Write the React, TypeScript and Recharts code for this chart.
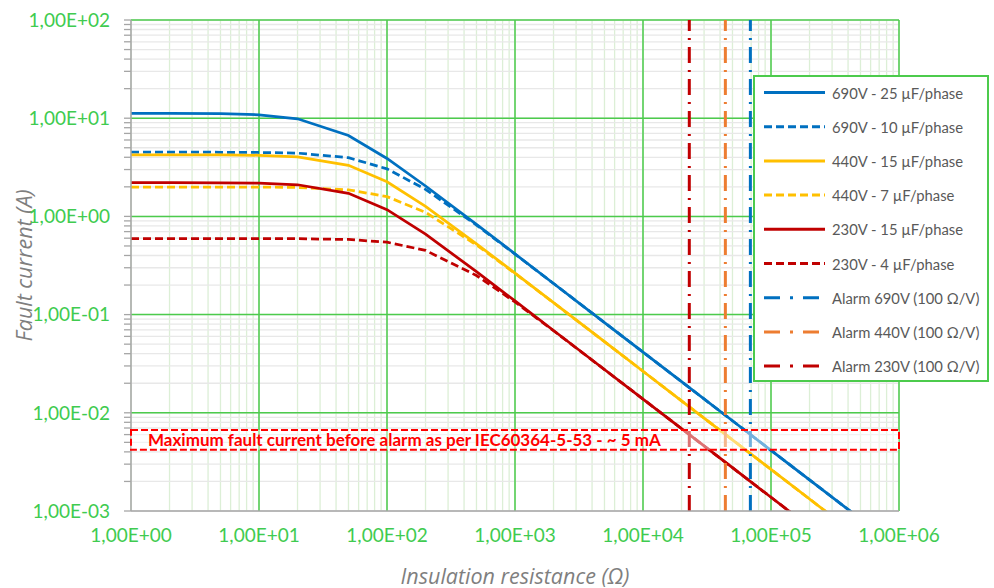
import { LineChart, Line, XAxis, YAxis, CartesianGrid, ReferenceLine, ReferenceArea, Legend } from 'recharts'

// insulation resistance (ohm) at which each curve point was read
const resistance = [1, 2, 5, 10, 20, 50, 100, 200, 500, 1e3, 2e3, 5e3, 1e4, 2e4, 5e4, 1e5, 2e5, 5e5, 1e6]

// fault current (A)
const i690v25uF = [11.21, 11.2, 11.11, 10.83, 9.87, 6.67, 3.89, 2.04, 0.828, 0.415, 0.2075, 0.083, 0.0415, 0.02075, 0.0083, 0.00415, 0.002075, 0.00083, 0.000415]
const i690v10uF = [4.51, 4.51, 4.5, 4.48, 4.41, 3.96, 3.05, 1.885, 0.816, 0.413, 0.2074, 0.083, 0.0415, 0.02075, 0.0083, 0.00415, 0.002075, 0.00083, 0.000415]
const i440v15uF = [4.24, 4.24, 4.23, 4.19, 4.04, 3.31, 2.25, 1.265, 0.526, 0.2645, 0.1325, 0.053, 0.0265, 0.01325, 0.0053, 0.00265, 0.001325, 0.00053, 0.000265]
const i440v7uF = [1.99, 1.99, 1.99, 1.99, 1.97, 1.865, 1.59, 1.1, 0.512, 0.263, 0.1322, 0.053, 0.0265, 0.01325, 0.0053, 0.00265, 0.001325, 0.00053, 0.000265]
const i230v15uF = [2.21, 2.21, 2.2, 2.18, 2.1, 1.72, 1.17, 0.659, 0.274, 0.1377, 0.0689, 0.0276, 0.0138, 0.0069, 0.00276, 0.00138, 0.00069, 0.000276, 0.000138]
const i230v4uF = [0.595, 0.595, 0.595, 0.594, 0.593, 0.582, 0.546, 0.451, 0.25, 0.1344, 0.0685, 0.02757, 0.0138, 0.0069, 0.00276, 0.00138, 0.00069, 0.000276, 0.000138]

// alarm thresholds (100 ohm/V)
const alarmR = [69000, 44000, 23000]
const alarmNames = ['Alarm 690V (100 Ω/V)', 'Alarm 440V (100 Ω/V)', 'Alarm 230V (100 Ω/V)']

// IEC 60364-5-53 band around ~5 mA
const bandLow = 0.0042
const bandHigh = 0.0067
const bandText = 'Maximum fault current before alarm as per IEC60364-5-53 - ~ 5 mA'

const xMajor = [1, 10, 100, 1e3, 1e4, 1e5, 1e6]
const xLabels = ['1,00E+00', '1,00E+01', '1,00E+02', '1,00E+03', '1,00E+04', '1,00E+05', '1,00E+06']
const yMajor = [0.001, 0.01, 0.1, 1, 10, 100]
const yLabels = ['1,00E-03', '1,00E-02', '1,00E-01', '1,00E+00', '1,00E+01', '1,00E+02']
const minorSteps = [2, 3, 4, 5, 6, 7, 8, 9]

const BLUE = '#0070C0'
const YELLOW = '#FFC000'
const RED = '#C00000'
const ORANGE = '#ED7D31'
const GREEN = '#4CCB4C'
const TICK_GREEN = '#3FCB50'
const FONT = 'Lato, "Open Sans", sans-serif'
const TITLE_FONT = '"Open Sans", Lato, sans-serif'

const series = [
  { key: 's1', name: '690V - 25 µF/phase', values: i690v25uF, color: BLUE, dash: undefined },
  { key: 's2', name: '690V - 10 µF/phase', values: i690v10uF, color: BLUE, dash: '8 4' },
  { key: 's3', name: '440V - 15 µF/phase', values: i440v15uF, color: YELLOW, dash: undefined },
  { key: 's4', name: '440V - 7 µF/phase', values: i440v7uF, color: YELLOW, dash: '8 4' },
  { key: 's5', name: '230V - 15 µF/phase', values: i230v15uF, color: RED, dash: undefined },
  { key: 's6', name: '230V - 4 µF/phase', values: i230v4uF, color: RED, dash: '8 4' },
]
const alarmColors = [BLUE, ORANGE, RED]

const data = resistance.map((r, i) => {
  const row: Record<string, number> = { r }
  series.forEach((s) => { row[s.key] = s.values[i] })
  return row
})

const withMinors = (majors: number[]) => {
  const out: number[] = []
  majors.forEach((m, i) => {
    out.push(m)
    if (i < majors.length - 1) minorSteps.forEach((k) => out.push(m * k))
  })
  return out
}
const xTicks = withMinors(xMajor)
const yTicks = withMinors(yMajor)

const fmt = (majors: number[], labels: string[]) => (v: number) => {
  const i = majors.findIndex((m) => Math.abs(m - v) / m < 1e-6)
  return i >= 0 ? labels[i] : ''
}

const legendItems = [
  ...series.map((s) => ({ name: s.name, color: s.color, dash: s.dash })),
  ...alarmNames.map((n, i) => ({ name: n, color: alarmColors[i], dash: '16 10 3 10' })),
]

function LegendBox() {
  return (
    <svg width={236} height={307} style={{ display: 'block' }}>
      <rect x={1} y={1} width={234} height={305} fill="#fff" stroke={GREEN} strokeWidth={2} />
      {legendItems.map((it, i) => {
        const cy = 17.5 + i * 34.2
        return (
          <g key={it.name}>
            <line x1={11} x2={72} y1={cy} y2={cy} stroke={it.color} strokeWidth={3} strokeDasharray={it.dash} />
            <text x={79} y={cy} dominantBaseline="central" fill="#595959" fontSize={14.8} fontFamily={FONT}>
              {it.name}
            </text>
          </g>
        )
      })}
    </svg>
  )
}

// eslint-disable-next-line @typescript-eslint/no-explicit-any
function YTitle({ viewBox }: any) {
  const cx = viewBox.x + 13
  const cy = viewBox.y + viewBox.height / 2
  return (
    <text x={cx} y={cy} transform={`rotate(-90 ${cx} ${cy})`} textAnchor="middle" dominantBaseline="central"
      fill="#7F7F7F" fontSize={21.5} fontStyle="italic" fontFamily={TITLE_FONT}>
      Fault current (A)
    </text>
  )
}

// eslint-disable-next-line @typescript-eslint/no-explicit-any
function XTitle({ viewBox }: any) {
  return (
    <text x={viewBox.x + viewBox.width / 2} y={viewBox.y + 64} textAnchor="middle" dominantBaseline="central"
      fill="#7F7F7F" fontSize={21.5} fontStyle="italic" fontFamily={TITLE_FONT}>
      Insulation resistance (Ω)
    </text>
  )
}

// eslint-disable-next-line @typescript-eslint/no-explicit-any
function BandLabel({ viewBox }: any) {
  return (
    <text x={viewBox.x + 17} y={viewBox.y + viewBox.height / 2} dominantBaseline="central"
      fill="#FF0000" fontSize={17} fontWeight={700} fontFamily={FONT}>
      {bandText}
    </text>
  )
}

export default function App() {
  return (
    <div style={{ position: 'fixed', left: 0, top: 0, width: 994, height: 588, background: '#fff' }}>
      <LineChart width={994} height={588} data={data} margin={{ top: 20, right: 95, bottom: 10, left: 10 }}>
        <CartesianGrid horizontal={false} stroke="#DCEFD6" strokeWidth={1.3} />
        <CartesianGrid vertical={false} stroke="#E8E8E8" strokeWidth={1.3} />
        {xMajor.slice(1).map((v) => (
          <ReferenceLine key={`gx${v}`} x={v} stroke={GREEN} strokeWidth={1.5} />
        ))}
        {yMajor.slice(1).map((v) => (
          <ReferenceLine key={`gy${v}`} y={v} stroke={GREEN} strokeWidth={1.5} />
        ))}
        <XAxis
          dataKey="r"
          type="number"
          scale="log"
          domain={[1, 1e6]}
          allowDataOverflow
          ticks={xTicks}
          interval={0}
          tickFormatter={fmt(xMajor, xLabels)}
          tickLine={false}
          axisLine={{ stroke: '#A6A6A6', strokeWidth: 1.5 }}
          tick={{ fill: TICK_GREEN, fontSize: 19, fontFamily: FONT }}
          tickMargin={12}
          height={67}
          label={{ content: XTitle }}
        />
        <YAxis
          type="number"
          scale="log"
          domain={[0.001, 100]}
          allowDataOverflow
          ticks={yTicks}
          interval={0}
          tickFormatter={fmt(yMajor, yLabels)}
          tickSize={7}
          tickLine={{ stroke: '#A6A6A6', strokeWidth: 1.3 }}
          axisLine={{ stroke: '#A6A6A6', strokeWidth: 1.5 }}
          tick={{ fill: TICK_GREEN, fontSize: 19, fontFamily: FONT }}
          tickMargin={14}
          width={121}
          label={{ content: YTitle }}
        />
        {series.map((s) => (
          <Line
            key={s.key}
            dataKey={s.key}
            name={s.name}
            type="linear"
            stroke={s.color}
            strokeWidth={2.75}
            strokeDasharray={s.dash}
            dot={false}
            activeDot={false}
            isAnimationActive={false}
          />
        ))}
        {alarmR.map((v, i) => (
          <ReferenceLine key={`a${v}`} x={v} stroke={alarmColors[i]} strokeWidth={3} strokeDasharray="16 7 2 7" />
        ))}
        <ReferenceArea
          y1={bandLow}
          y2={bandHigh}
          fill="#fff"
          fillOpacity={0.45}
          stroke="#FF0000"
          strokeWidth={2}
          strokeDasharray="7 3"
          zIndex={2000}
        />
        <ReferenceArea
          y1={bandLow}
          y2={bandHigh}
          fill="none"
          stroke="none"
          zIndex={2100}
          label={{ content: BandLabel, zIndex: 2100 }}
        />
        <Legend
          layout="vertical"
          align="center"
          verticalAlign="middle"
          content={() => <LegendBox />}
          wrapperStyle={{ left: 753, top: 75, width: 236, height: 307 }}
        />
      </LineChart>
    </div>
  )
}
